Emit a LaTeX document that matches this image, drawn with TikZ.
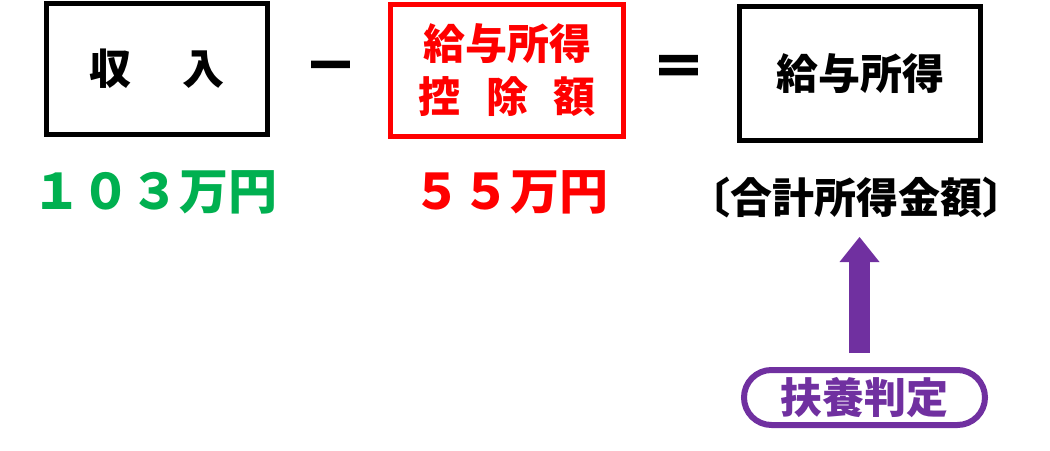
\documentclass[tikz,border=0pt]{standalone}
\usepackage{fontspec}
\setmainfont{Noto Sans CJK JP}
\usetikzlibrary{arrows.meta}
\definecolor{pgreen}{HTML}{00B050}
\definecolor{pred}{HTML}{FF0000}
\definecolor{ppurple}{HTML}{7030A0}
\begin{document}
\begin{tikzpicture}[x=1pt,y=-1pt,
  box/.style={draw, line width=5pt, rectangle, inner sep=0pt},
  jp/.style={font=\bfseries\fontsize{42}{53}\selectfont},
  sign/.style={inner sep=0pt, font=\bfseries\fontsize{54}{54}\selectfont\addfontfeature{FakeBold=2}},
  big/.style={font=\bfseries\fontsize{49}{56}\selectfont, inner sep=0pt},
  pill/.style={draw=ppurple, line width=6pt, rectangle, rounded corners=27.5pt, inner sep=0pt},
  bigarrow/.style={draw=ppurple, line width=21pt, -{Triangle[width=40pt,length=25pt,line width=0pt]}}
]
\useasboundingbox (0,0) rectangle (1050,450);
\node[box, minimum width=221pt, minimum height=131.5pt, jp] (income) at (157,68.75) {収\hspace{1.2em}入};
\node[sign] (minus) at (330.5,73) {－};
\node[box, draw=pred, text=pred, minimum width=233pt, minimum height=132pt, jp, align=center] (deduct) at (507,70.5) {給与所得\\控\hspace{0.6em}除\hspace{0.6em}額};
\node[sign] (equals) at (678.5,71) {＝};
\node[box, minimum width=241pt, minimum height=134pt, jp] (salary) at (860,73.5) {給与所得};
\node[big, text=pgreen] (v103) at (155,192.5) {１０３万円};
\node[big, text=pred] (v55) at (510.5,192.5) {５５万円};
\node[jp, inner sep=0pt] (total) at (856,198) {〔合計所得金額〕};
\node[pill, minimum width=241pt, minimum height=55pt, jp, text=ppurple] (judge) at (864.5,397.5) {扶養判定};
\draw[bigarrow] ([xshift=-5pt,yshift=14pt]judge.north) -- ([xshift=-5pt,yshift=130pt]judge.north);
\end{tikzpicture}
\end{document}
